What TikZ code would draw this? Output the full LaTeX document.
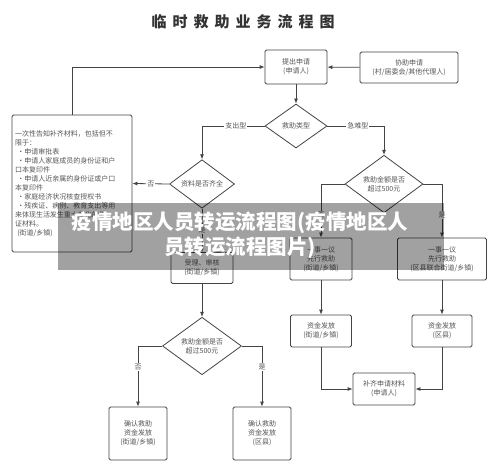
\documentclass[tikz,border=0pt]{standalone}
\usepackage{fontspec}
\usepackage{tikz}
\usetikzlibrary{shapes.geometric, arrows.meta}
\newfontfamily\cjk{Noto Sans CJK SC}
\definecolor{linegray}{HTML}{444444}
\definecolor{textgray}{HTML}{555555}
\newcommand{\boxfont}{\cjk\fontsize{7}{9}\selectfont}

\begin{document}
\begin{tikzpicture}[x=1pt, y=-1pt,
    box/.style={draw=linegray, line width=0.8pt, rounded corners=1.5pt, align=center,
        inner sep=0pt, text=textgray, font=\boxfont},
    decision/.style={diamond, draw=linegray, line width=0.8pt, align=center,
        inner sep=0pt, text=textgray, font=\boxfont},
    flow/.style={draw=linegray, line width=0.8pt, -{Latex[length=5pt,width=4pt]}},
    lbl/.style={fill=white, inner sep=1pt, text=textgray, font=\boxfont}]
    \useasboundingbox[fill=white] (0,0) rectangle (500,473);

    \node[text=black!80, font=\cjk\bfseries\fontsize{15}{15}\selectfont\addfontfeature{LetterSpace=40}] (title) at (243,22) {临时救助业务流程图};

    \node[box, minimum width=62, minimum height=34] (tichu) at (296,67) {提出申请\\(申请人)};
    \node[box, minimum width=98, minimum height=31] (xiezhu) at (409,67.5) {协助申请\\(村/居委会/其他代理人)};
    \node[decision, minimum width=62, minimum height=44] (leixing) at (296,126) {救助类型};
    \node[decision, minimum width=65, minimum height=43] (qiquan) at (202,184) {资料是否齐全};
    \node[box, minimum width=120, minimum height=137, text width=114, align=left] (buqi) at (72,183.5)
        {一次性告知补齐材料，包括但不\\限于：\\
         \ ·申请审批表\\
         \ ·申请人家庭成员的身份证和户\\口本复印件\\
         \ ·申请人近亲属的身份证或户口\\本复印件\\
         \ ·家庭经济状况核查授权书\\
         \ ·残疾证、病例、教育支出等用\\来体现生活发生重大变化的佐\\证材料。\\
         \ (街道/乡镇)};
    \node[box, minimum width=62, minimum height=31] (shouli) at (202,268) {受理、审核\\(街道/乡镇)};
    \node[decision, minimum width=79, minimum height=48] (jine1) at (202,346) {救助金额是否\\超过500元};
    \node[box, minimum width=58, minimum height=53] (queren1) at (138,433.5) {确认救助\\资金发放\\(街道/乡镇)};
    \node[box, minimum width=58, minimum height=53] (queren2) at (262,433.5) {确认救助\\资金发放\\(区县)};
    \node[decision, minimum width=78, minimum height=48] (jine2) at (384,184) {救助金额是否\\超过500元};
    \node[box, minimum width=62, minimum height=42] (yishi1) at (321,259) {一事一议\\先行救助\\(街道/乡镇)};
    \node[box, minimum width=89, minimum height=42] (yishi2) at (442,259) {一事一议\\先行救助\\(区县联合街道/乡镇)};
    \node[box, minimum width=61, minimum height=32] (fafang1) at (321,331) {资金发放\\(街道/乡镇)};
    \node[box, minimum width=60, minimum height=32] (fafang2) at (442,331) {资金发放\\(区县)};
    \node[box, minimum width=62, minimum height=32] (buqicl) at (384,389) {补齐申请材料\\(申请人)};

    \draw[flow] (xiezhu) -- (tichu);
    \draw[flow] (tichu) -- (leixing);
    \draw[flow] (leixing.west) -| node[lbl, pos=0.23] {支出型} (qiquan.north);
    \draw[flow] (leixing.east) -| node[lbl, pos=0.27] {急难型} (jine2.north);
    \draw[flow] (qiquan.west) -- node[lbl] {否} (buqi.east);
    \draw[flow] (buqi.north) |- (tichu.west);
    \draw[flow] (qiquan.south) -- node[lbl] {是} (shouli.north);
    \draw[flow] (shouli) -- (jine1);
    \draw[flow] (jine1.west) -| node[lbl, pos=0.67] {否} (queren1.north);
    \draw[flow] (jine1.east) -| node[lbl, pos=0.67] {是} (queren2.north);
    \draw[flow] (jine2.west) -| node[lbl, pos=0.79] {否} (yishi1.north);
    \draw[flow] (jine2.east) -| node[lbl, pos=0.79] {是} (yishi2.north);
    \draw[flow] (yishi1) -- (fafang1);
    \draw[flow] (yishi2) -- (fafang2);
    \draw[flow] (fafang1.south) |- (buqicl.west);
    \draw[flow] (fafang2.south) |- (buqicl.east);

    % grey banner across the middle
    \fill[black, fill opacity=0.37] (58,203) rectangle (444,270);
    \node[text=white, align=center, font=\cjk\bfseries\fontsize{20.5}{25}\selectfont] (banner) at (240,235.5)
        {疫情地区人员转运流程图(疫情地区人\\员转运流程图片)};
\end{tikzpicture}
\end{document}
